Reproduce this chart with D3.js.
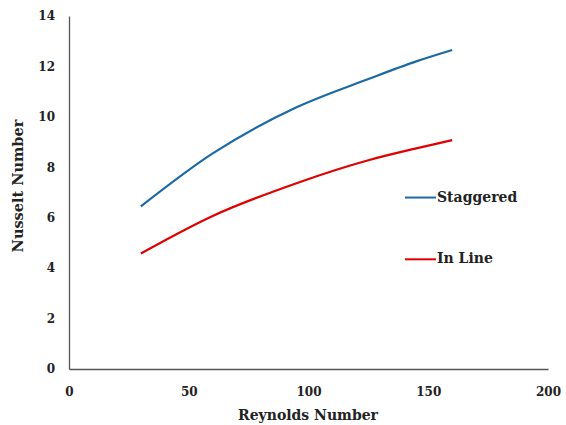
<!DOCTYPE html>
<html lang="en">
<head>
  <meta charset="UTF-8">
  <title>Nusselt vs Reynolds</title>
  <script src="https://d3js.org/d3.v7.min.js"></script>
  <style>
    body { margin: 0; background: #fff; }
    text { font-family: "DejaVu Serif", serif; font-weight: bold; fill: #222; }
  </style>
</head>
<body>
<script>
const width = 566;
const height = 425;

// data
const reynolds = [30, 60, 95, 125, 145, 160];
const staggered = [6.45, 8.55, 10.38, 11.5, 12.2, 12.65];
const inLine = [4.58, 6.07, 7.37, 8.28, 8.75, 9.08];
const xTicks = [0, 50, 100, 150, 200];
const yTicks = [0, 2, 4, 6, 8, 10, 12, 14];

const series = [
  {name: "Staggered", values: staggered, color: "#1b6aa5", legendY: 6.8},
  {name: "In Line", values: inLine, color: "#e00000", legendY: 4.35}
];

const margin = {top: 16, right: 18, bottom: 56, left: 69};

const svg = d3.select("body").append("svg")
  .attr("width", width)
  .attr("height", height);

const x = d3.scaleLinear().domain([0, 200]).range([margin.left, width - margin.right]);
const y = d3.scaleLinear().domain([0, 14]).range([height - margin.bottom, margin.top]);

// axes
svg.append("g")
  .attr("transform", `translate(0,${y(0)})`)
  .call(d3.axisBottom(x).tickValues(xTicks).tickSize(0).tickPadding(18))
  .call(g => g.select(".domain").attr("stroke", "#555").attr("stroke-width", 1.3))
  .call(g => g.selectAll("text").attr("font-size", 12).attr("font-family", "DejaVu Serif").attr("fill", "#222"));

svg.append("g")
  .attr("transform", `translate(${x(0)},0)`)
  .call(d3.axisLeft(y).tickValues(yTicks).tickSize(0).tickPadding(14))
  .call(g => g.select(".domain").attr("stroke", "#555").attr("stroke-width", 1.3))
  .call(g => g.selectAll("text").attr("font-size", 12).attr("font-family", "DejaVu Serif").attr("fill", "#222"));

// titles
svg.append("text")
  .attr("x", 308)
  .attr("y", 420)
  .attr("text-anchor", "middle")
  .attr("font-size", 14)
  .text("Reynolds Number");

svg.append("text")
  .attr("transform", "translate(23,186) rotate(-90)")
  .attr("text-anchor", "middle")
  .attr("font-size", 14.5)
  .attr("font-family", "Liberation Serif")
  .text("Nusselt Number");

// lines
const line = d3.line()
  .x((d, i) => x(reynolds[i]))
  .y(d => y(d))
  .curve(d3.curveMonotoneX);

svg.selectAll(".series")
  .data(series)
  .join("path")
  .attr("class", "series")
  .attr("fill", "none")
  .attr("stroke", d => d.color)
  .attr("stroke-width", 2.2)
  .attr("d", d => line(d.values));

// legend
const legend = svg.selectAll(".legend")
  .data(series)
  .join("g")
  .attr("class", "legend")
  .attr("transform", d => `translate(405,${y(d.legendY)})`);

legend.append("line")
  .attr("x1", 0).attr("x2", 31)
  .attr("stroke", d => d.color)
  .attr("stroke-width", 2);

legend.append("text")
  .attr("x", 32)
  .attr("y", 4)
  .attr("font-size", 14)
  .text(d => d.name);
</script>
</body>
</html>
